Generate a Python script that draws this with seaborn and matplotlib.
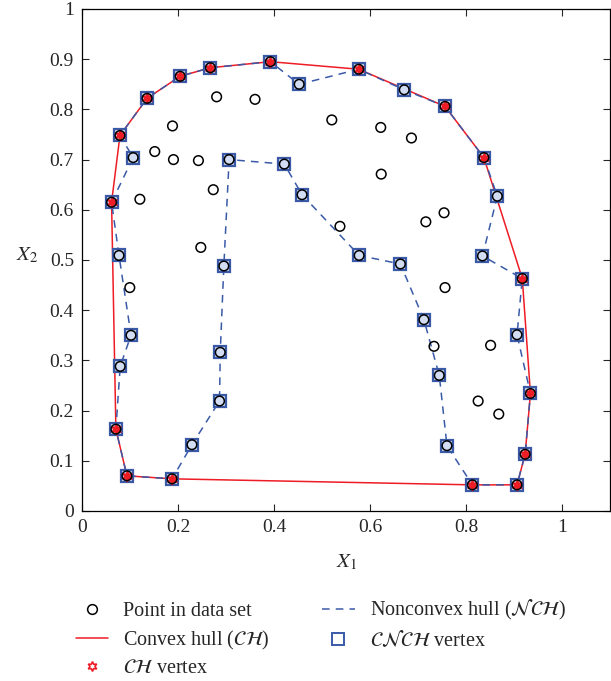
import matplotlib
matplotlib.use("Agg")
import matplotlib.pyplot as plt
from matplotlib.lines import Line2D
import seaborn as sns
import pandas as pd

# ---- data ----
interior_x = [0.280, 0.360, 0.520, 0.188, 0.151, 0.190, 0.242, 0.120, 0.273, 0.247, 0.537,
              0.622, 0.686, 0.623, 0.716, 0.754, 0.099, 0.756, 0.733, 0.851, 0.825, 0.868]
interior_y = [0.825, 0.820, 0.779, 0.767, 0.716, 0.700, 0.698, 0.621, 0.640, 0.525, 0.567,
              0.764, 0.743, 0.671, 0.576, 0.594, 0.445, 0.445, 0.328, 0.330, 0.219, 0.193]

nch_x = [0.061, 0.106, 0.0785, 0.135, 0.204, 0.267, 0.392, 0.452, 0.576, 0.671, 0.756, 0.837,
         0.865, 0.834, 0.917, 0.906, 0.934, 0.923, 0.906, 0.813, 0.760, 0.744, 0.712, 0.663,
         0.577, 0.458, 0.421, 0.306, 0.295, 0.2875, 0.286, 0.2285, 0.187, 0.093, 0.070, 0.079,
         0.1015, 0.0765, 0.061]
nch_y = [0.615, 0.704, 0.748, 0.822, 0.866, 0.883, 0.895, 0.850, 0.880, 0.839, 0.806, 0.704,
         0.627, 0.508, 0.463, 0.351, 0.234, 0.113, 0.052, 0.052, 0.130, 0.270, 0.381, 0.492,
         0.509, 0.630, 0.691, 0.700, 0.488, 0.316, 0.219, 0.132, 0.064, 0.070, 0.163, 0.288,
         0.350, 0.509, 0.615]

ch_x = [0.061, 0.0785, 0.135, 0.204, 0.267, 0.392, 0.576, 0.756, 0.837, 0.917, 0.934, 0.923,
        0.906, 0.813, 0.187, 0.093, 0.070, 0.061]
ch_y = [0.615, 0.748, 0.822, 0.866, 0.883, 0.895, 0.880, 0.806, 0.704, 0.463, 0.234, 0.113,
        0.052, 0.052, 0.064, 0.070, 0.163, 0.615]

x_ticks = [0, 0.2, 0.4, 0.6, 0.8, 1]
x_tick_labels = ["0", "0.2", "0.4", "0.6", "0.8", "1"]
y_ticks = [0, 0.1, 0.2, 0.3, 0.4, 0.5, 0.6, 0.7, 0.8, 0.9, 1]
y_tick_labels = ["0", "0.1", "0.2", "0.3", "0.4", "0.5", "0.6", "0.7", "0.8", "0.9", "1"]

legend_labels = ["Point in data set", r"Convex hull ($\mathcal{CH}$)", r"$\mathcal{CH}$ vertex",
                 r"Nonconvex hull ($\mathcal{NCH}$)", r"$\mathcal{CNCH}$ vertex"]

RED = "#ee1c24"
BLUE = "#3a5aa8"

sns.set_style("ticks")
plt.rcParams["font.family"] = ["Liberation Serif", "DejaVu Serif"]
plt.rcParams["mathtext.fontset"] = "stix"

fig = plt.figure(figsize=(6.11, 6.81), dpi=100)
ax = fig.add_axes([0.1347, 0.2497, 0.8638, 0.7371])

nch_df = pd.DataFrame({"x": nch_x, "y": nch_y})
ch_df = pd.DataFrame({"x": ch_x, "y": ch_y})
all_df = pd.DataFrame({"x": nch_x[:-1] + interior_x, "y": nch_y[:-1] + interior_y})

sns.lineplot(data=ch_df, x="x", y="y", sort=False, estimator=None, color=RED, lw=1.1, ax=ax)
sns.lineplot(data=nch_df, x="x", y="y", sort=False, estimator=None, color=BLUE, lw=1.1,
             linestyle=(0, (5, 4)), ax=ax)
# vertices
ax.plot(nch_x[:-1], nch_y[:-1], ls="none", marker="s", ms=8, mfc="#d2dcf2", mec=BLUE, mew=1.6)
ax.plot(ch_x[:-1], ch_y[:-1], ls="none", marker=(6, 1, 0), ms=8, mfc=RED, mec=RED, mew=0.8)
sns.scatterplot(data=all_df, x="x", y="y", marker="o", s=48, facecolor="none",
                edgecolor="black", linewidth=1.1, ax=ax, zorder=5)

ax.set_xlim(0, 1.1)
ax.set_ylim(0, 1)
ax.set_xticks(x_ticks)
ax.set_xticklabels(x_tick_labels)
ax.set_yticks(y_ticks)
ax.set_yticklabels(y_tick_labels)
ax.tick_params(direction="in", top=True, right=True, length=5, width=0.8, labelsize=14, pad=6)
for s in ax.spines.values():
    s.set_visible(True)
    s.set_linewidth(0.9)
    s.set_color("black")
ax.set_xlabel(r"$X_1$", fontsize=15, labelpad=12)
ax.set_ylabel(r"$X_2$", fontsize=15, rotation=0)
ax.yaxis.set_label_coords(-0.105, 0.49)

handles = [
    Line2D([], [], ls="none", marker="o", ms=7, mfc="none", mec="black", mew=1.1),
    Line2D([], [], color=RED, lw=1.1),
    Line2D([], [], ls="none", marker=(6, 1, 0), ms=7, mfc="none", mec=RED, mew=1.2),
    Line2D([], [], color=BLUE, lw=1.1, linestyle=(0, (5, 4))),
    Line2D([], [], ls="none", marker="s", ms=8, mfc="none", mec=BLUE, mew=1.4),
]
fig.legend(handles, legend_labels, ncol=2, loc="upper left", bbox_to_anchor=(0.098, 0.145),
           frameon=False, fontsize=14.5, handlelength=1.6, columnspacing=2.6,
           labelspacing=0.38, handletextpad=0.75, borderpad=0.3)

fig.savefig("out.png", dpi=100)
